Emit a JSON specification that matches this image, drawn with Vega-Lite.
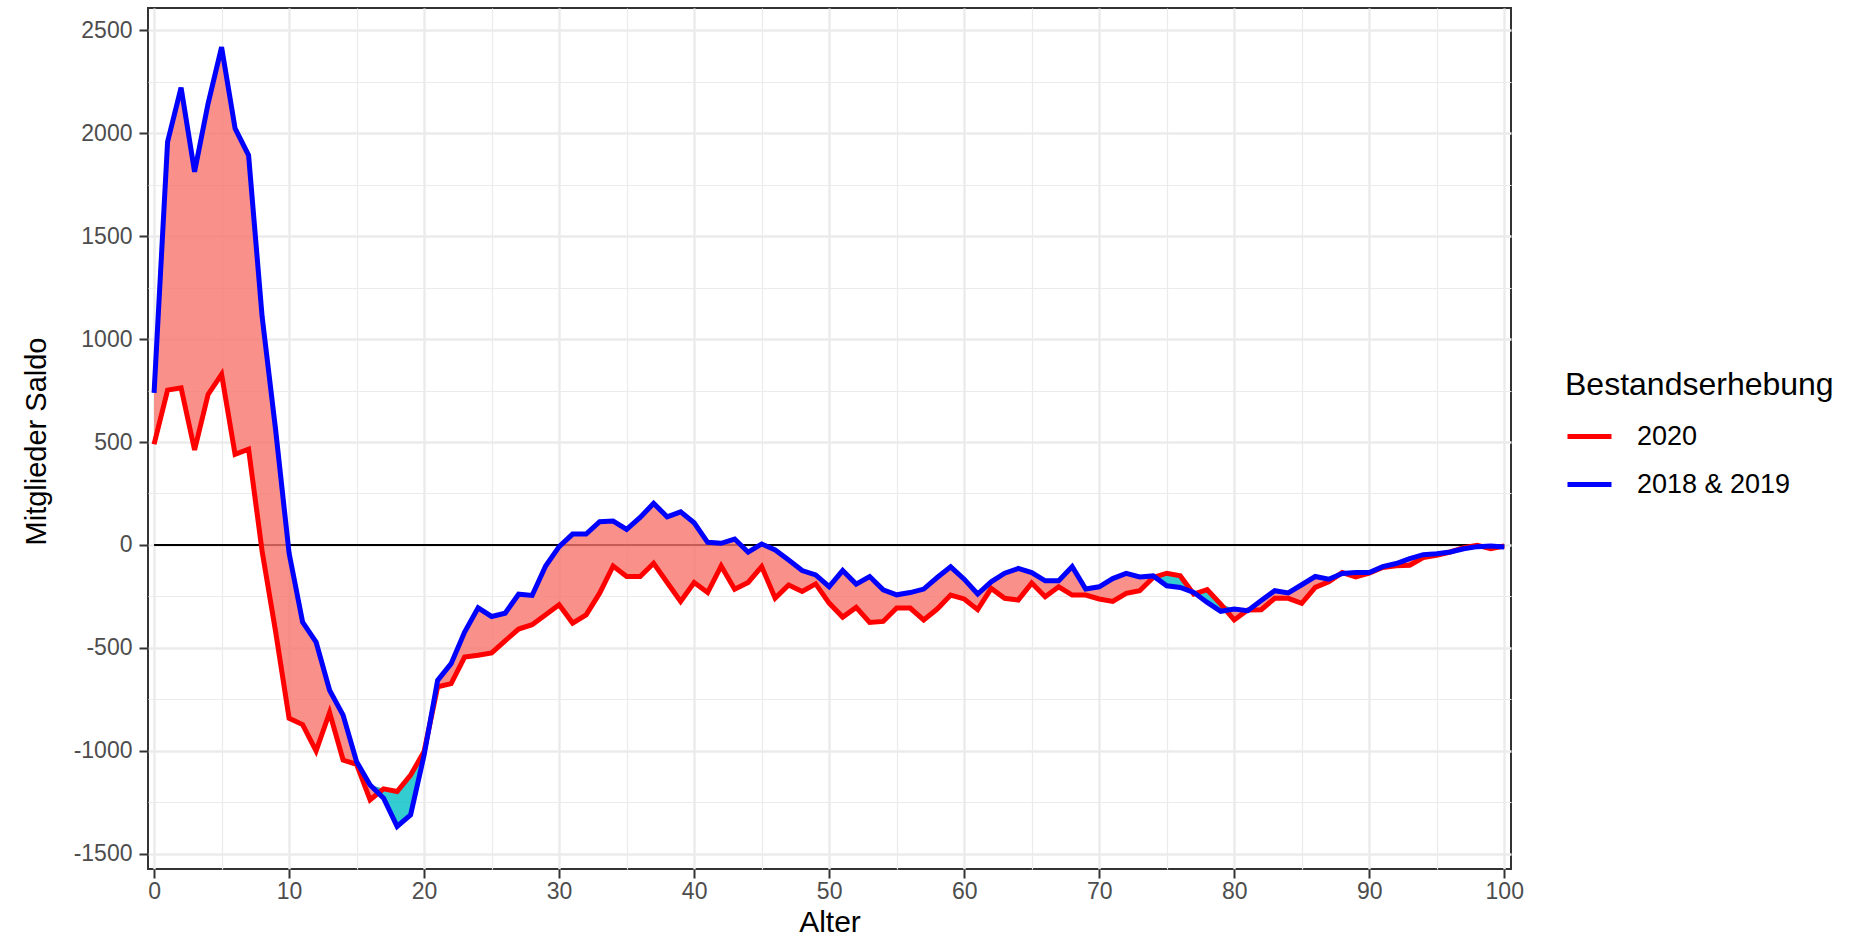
{
  "$schema": "https://vega.github.io/schema/vega-lite/v6.json",
  "width": 1363,
  "height": 861,
  "autosize": {"type": "none"},
  "padding": {"left": 148, "top": 8, "right": 349, "bottom": 71},
  "background": "white",
  "config": {
    "font": "Liberation Sans",
    "view": {"stroke": "#333333", "strokeWidth": 2},
    "axis": {
      "domain": false,
      "grid": true,
      "gridColor": "#EBEBEB",
      "tickColor": "#333333",
      "tickWidth": 2,
      "tickSize": 9,
      "labelFont": "Liberation Sans",
      "labelFontSize": 23,
      "labelColor": "#4D4D4D",
      "titleFont": "Liberation Sans",
      "titleFontSize": 29,
      "titleFontWeight": "normal",
      "titleColor": "#000000"
    }
  },
  "data": {
    "values": [
      {"age": 0, "s2020": 489, "s1819": 739},
      {"age": 1, "s2020": 752, "s1819": 1957},
      {"age": 2, "s2020": 763, "s1819": 2220},
      {"age": 3, "s2020": 461, "s1819": 1812},
      {"age": 4, "s2020": 731, "s1819": 2143},
      {"age": 5, "s2020": 828, "s1819": 2417},
      {"age": 6, "s2020": 440, "s1819": 2022},
      {"age": 7, "s2020": 465, "s1819": 1892},
      {"age": 8, "s2020": -30, "s1819": 1110},
      {"age": 9, "s2020": -420, "s1819": 560},
      {"age": 10, "s2020": -841, "s1819": -40},
      {"age": 11, "s2020": -872, "s1819": -374},
      {"age": 12, "s2020": -1000, "s1819": -471},
      {"age": 13, "s2020": -813, "s1819": -705},
      {"age": 14, "s2020": -1044, "s1819": -826},
      {"age": 15, "s2020": -1065, "s1819": -1052},
      {"age": 16, "s2020": -1237, "s1819": -1165},
      {"age": 17, "s2020": -1184, "s1819": -1229},
      {"age": 18, "s2020": -1197, "s1819": -1366},
      {"age": 19, "s2020": -1117, "s1819": -1310},
      {"age": 20, "s2020": -1003, "s1819": -1020},
      {"age": 21, "s2020": -689, "s1819": -657},
      {"age": 22, "s2020": -673, "s1819": -576},
      {"age": 23, "s2020": -544, "s1819": -423},
      {"age": 24, "s2020": -535, "s1819": -305},
      {"age": 25, "s2020": -524, "s1819": -347},
      {"age": 26, "s2020": -465, "s1819": -331},
      {"age": 27, "s2020": -408, "s1819": -239},
      {"age": 28, "s2020": -387, "s1819": -245},
      {"age": 29, "s2020": -339, "s1819": -102},
      {"age": 30, "s2020": -290, "s1819": -8},
      {"age": 31, "s2020": -379, "s1819": 53},
      {"age": 32, "s2020": -339, "s1819": 53},
      {"age": 33, "s2020": -234, "s1819": 113},
      {"age": 34, "s2020": -102, "s1819": 116},
      {"age": 35, "s2020": -153, "s1819": 76},
      {"age": 36, "s2020": -153, "s1819": 134},
      {"age": 37, "s2020": -89, "s1819": 202},
      {"age": 38, "s2020": -182, "s1819": 137},
      {"age": 39, "s2020": -274, "s1819": 161},
      {"age": 40, "s2020": -182, "s1819": 108},
      {"age": 41, "s2020": -231, "s1819": 13},
      {"age": 42, "s2020": -102, "s1819": 8},
      {"age": 43, "s2020": -215, "s1819": 29},
      {"age": 44, "s2020": -182, "s1819": -35},
      {"age": 45, "s2020": -105, "s1819": 5},
      {"age": 46, "s2020": -258, "s1819": -24},
      {"age": 47, "s2020": -194, "s1819": -73},
      {"age": 48, "s2020": -226, "s1819": -124},
      {"age": 49, "s2020": -189, "s1819": -145},
      {"age": 50, "s2020": -282, "s1819": -202},
      {"age": 51, "s2020": -350, "s1819": -124},
      {"age": 52, "s2020": -303, "s1819": -190},
      {"age": 53, "s2020": -376, "s1819": -153},
      {"age": 54, "s2020": -371, "s1819": -218},
      {"age": 55, "s2020": -306, "s1819": -242},
      {"age": 56, "s2020": -306, "s1819": -231},
      {"age": 57, "s2020": -364, "s1819": -214},
      {"age": 58, "s2020": -311, "s1819": -158},
      {"age": 59, "s2020": -243, "s1819": -106},
      {"age": 60, "s2020": -262, "s1819": -166},
      {"age": 61, "s2020": -314, "s1819": -238},
      {"age": 62, "s2020": -211, "s1819": -179},
      {"age": 63, "s2020": -259, "s1819": -137},
      {"age": 64, "s2020": -267, "s1819": -114},
      {"age": 65, "s2020": -185, "s1819": -134},
      {"age": 66, "s2020": -251, "s1819": -174},
      {"age": 67, "s2020": -203, "s1819": -174},
      {"age": 68, "s2020": -243, "s1819": -105},
      {"age": 69, "s2020": -243, "s1819": -214},
      {"age": 70, "s2020": -262, "s1819": -203},
      {"age": 71, "s2020": -274, "s1819": -163},
      {"age": 72, "s2020": -235, "s1819": -138},
      {"age": 73, "s2020": -222, "s1819": -155},
      {"age": 74, "s2020": -158, "s1819": -150},
      {"age": 75, "s2020": -137, "s1819": -198},
      {"age": 76, "s2020": -150, "s1819": -206},
      {"age": 77, "s2020": -238, "s1819": -230},
      {"age": 78, "s2020": -217, "s1819": -279},
      {"age": 79, "s2020": -287, "s1819": -322},
      {"age": 80, "s2020": -364, "s1819": -311},
      {"age": 81, "s2020": -316, "s1819": -319},
      {"age": 82, "s2020": -314, "s1819": -270},
      {"age": 83, "s2020": -259, "s1819": -222},
      {"age": 84, "s2020": -259, "s1819": -233},
      {"age": 85, "s2020": -283, "s1819": -193},
      {"age": 86, "s2020": -206, "s1819": -153},
      {"age": 87, "s2020": -179, "s1819": -166},
      {"age": 88, "s2020": -134, "s1819": -138},
      {"age": 89, "s2020": -155, "s1819": -134},
      {"age": 90, "s2020": -137, "s1819": -134},
      {"age": 91, "s2020": -109, "s1819": -105},
      {"age": 92, "s2020": -101, "s1819": -90},
      {"age": 93, "s2020": -98, "s1819": -66},
      {"age": 94, "s2020": -61, "s1819": -47},
      {"age": 95, "s2020": -50, "s1819": -42},
      {"age": 96, "s2020": -34, "s1819": -34},
      {"age": 97, "s2020": -13, "s1819": -18},
      {"age": 98, "s2020": -2, "s1819": -8},
      {"age": 99, "s2020": -18, "s1819": -5},
      {"age": 100, "s2020": -5, "s1819": -10}
    ]
  },
  "transform": [
    {"calculate": "max(datum.s2020, datum.s1819)", "as": "hi"}
  ],
  "encoding": {
    "x": {
      "field": "age",
      "type": "quantitative",
      "title": "Alter",
      "scale": {"domain": [-0.45, 100.5], "nice": false, "zero": false},
      "axis": {
        "values": [0, 5, 10, 15, 20, 25, 30, 35, 40, 45, 50, 55, 60, 65, 70, 75, 80, 85, 90, 95, 100],
        "labelExpr": "datum.value % 10 === 0 ? '' + datum.value : ''",
        "gridWidth": {"condition": {"test": "datum.value % 10 === 0", "value": 2.4}, "value": 1.2},
        "tickOpacity": {"condition": {"test": "datum.value % 10 !== 0", "value": 0}, "value": 1},
        "labelPadding": 2,
        "labelFlush": false,
        "labelOverlap": false,
        "titleFontSize": 30,
        "titleY": 53,
        "titleBaseline": "middle"
      }
    },
    "y": {
      "type": "quantitative",
      "title": "Mitglieder Saldo",
      "scale": {"domain": [-1573, 2607], "nice": false, "zero": false},
      "axis": {
        "values": [-1500, -1250, -1000, -750, -500, -250, 0, 250, 500, 750, 1000, 1250, 1500, 1750, 2000, 2250, 2500],
        "labelExpr": "datum.value % 500 === 0 ? '' + datum.value : ''",
        "gridWidth": {"condition": {"test": "datum.value % 500 === 0", "value": 2.4}, "value": 1.2},
        "tickOpacity": {"condition": {"test": "datum.value % 500 !== 0", "value": 0}, "value": 1},
        "labelPadding": 7,
        "labelOverlap": false,
        "titleX": -112,
        "titleY": 433,
        "titleAngle": -90,
        "titleBaseline": "middle",
        "titleAlign": "center"
      }
    }
  },
  "layer": [
    {
      "data": {"values": [{"a": 0, "b": 100, "z": 0}]},
      "mark": {"type": "rule", "color": "#000000", "strokeWidth": 2},
      "encoding": {
        "x": {"field": "a", "type": "quantitative"},
        "x2": {"field": "b"},
        "y": {"field": "z", "type": "quantitative"}
      }
    },
    {
      "mark": {"type": "area", "color": "#F8766D", "opacity": 0.8},
      "encoding": {
        "y": {"field": "s2020", "type": "quantitative"},
        "y2": {"field": "hi"}
      }
    },
    {
      "mark": {"type": "area", "color": "#00BFC4", "opacity": 0.8},
      "encoding": {
        "y": {"field": "s1819", "type": "quantitative"},
        "y2": {"field": "hi"}
      }
    },
    {
      "mark": {"type": "line", "strokeWidth": 5, "strokeJoin": "miter", "strokeCap": "butt"},
      "encoding": {
        "y": {"field": "s2020", "type": "quantitative"},
        "color": {
          "datum": "2020",
          "type": "nominal",
          "scale": {"domain": ["2020", "2018 & 2019"], "range": ["#FF0000", "#0000FF"]},
          "legend": {
            "title": "Bestandserhebung",
            "orient": "none",
            "legendX": 1417,
            "legendY": 362,
            "titleFont": "Liberation Sans",
            "titleFontSize": 32,
            "titleFontWeight": "normal",
            "titleColor": "#000000",
            "titleBaseline": "top",
            "titleLimit": 600,
            "titlePadding": 10,
            "labelFont": "Liberation Sans",
            "labelFontSize": 27,
            "labelLimit": 400,
            "labelColor": "#000000",
            "labelOffset": 23,
            "symbolType": "stroke",
            "symbolSize": 1936,
            "symbolStrokeWidth": 5,
            "rowPadding": 10
          }
        }
      }
    },
    {
      "mark": {"type": "line", "strokeWidth": 5, "strokeJoin": "miter", "strokeCap": "butt"},
      "encoding": {
        "y": {"field": "s1819", "type": "quantitative"},
        "color": {"datum": "2018 & 2019", "type": "nominal"}
      }
    }
  ]
}
